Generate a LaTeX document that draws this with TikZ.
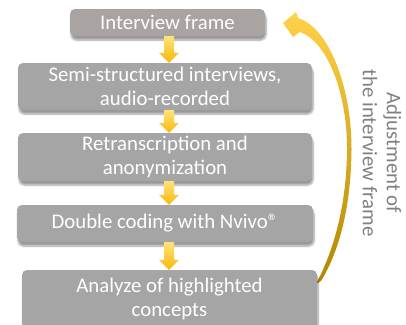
\documentclass[tikz,border=0pt]{standalone}
\usepackage{fontspec}
\setmainfont{Carlito}
\usetikzlibrary{calc,shadows.blur}
\definecolor{boxgrey}{HTML}{A5A5A5}
\definecolor{boxtaupe}{HTML}{A9A4A2}
\definecolor{txtgrey}{HTML}{808080}
\definecolor{arrtop}{HTML}{FFE27A}
\definecolor{arrbot}{HTML}{F7B80A}
\definecolor{curvtop}{HTML}{FFD24A}
\definecolor{curvmid}{HTML}{F6BE00}
\definecolor{curvbot}{HTML}{B38600}
\tikzset{
  stepbox/.style={fill=boxgrey, rounded corners=5pt, text=white, align=center,
    inner sep=0pt, font=\fontsize{20.8}{24}\selectfont,
    blur shadow={shadow xshift=1pt, shadow yshift=-4pt, shadow blur steps=6, shadow opacity=40}},
  downarr/.style={top color=arrtop, bottom color=arrbot},
  sidelabel/.style={text=txtgrey, align=center, rotate=-90, font=\fontsize{20.8}{24}\selectfont}
}
\newcommand\blockarrow[3]{%
  \path[downarr] let \p1=(#1.south), \p2=(#2.north) in
    (#3pt-5pt,\y1) -- (#3pt+5pt,\y1) -- (#3pt+5pt,\y2+10pt) -- (#3pt+10pt,\y2+10pt)
    -- (#3pt,\y2) -- (#3pt-10pt,\y2+10pt) -- (#3pt-5pt,\y2+10pt) -- cycle;}
\begin{document}
\begin{tikzpicture}[x=1pt,y=-1pt]
\useasboundingbox (0,0) rectangle (406,324);
% curved feedback arrow
\shade[top color=curvtop, middle color=curvmid, bottom color=curvbot]
  (283,23) -- (296,12) -- (298,18)
  .. controls (330,28) and (352,90) .. (351.5,150)
  .. controls (351,205) and (340,250) .. (321,281)
  -- (316,284)
  .. controls (334,250) and (346.5,205) .. (347,150)
  .. controls (347.5,95) and (328,42) .. (300,32)
  -- (293,37) -- cycle;
% boxes
\node[stepbox, fill=boxtaupe, minimum width=195pt, minimum height=27pt] (b1) at (167.5,22.5) {Interview frame};
\node[stepbox, minimum width=294pt, minimum height=47pt] (b2) at (165,86.5) {Semi-structured interviews,\\audio-recorded};
\node[stepbox, minimum width=294pt, minimum height=48pt] (b3) at (165,157) {Retranscription and\\anonymization};
\node[stepbox, minimum width=296pt, minimum height=37pt] (b4) at (165,223.5) {Double coding with Nvivo®};
\node[stepbox, minimum width=295pt, minimum height=58pt] (b5) at (169.5,299) {Analyze of highlighted\\concepts};
% arrows
\blockarrow{b1}{b2}{169}
\blockarrow{b2}{b3}{169}
\blockarrow{b3}{b4}{169}
\blockarrow{b4}{b5}{169}
% side label
\node[sidelabel] (lab) at (382,153) {Adjustment of\\the interview frame};
\end{tikzpicture}
\end{document}
